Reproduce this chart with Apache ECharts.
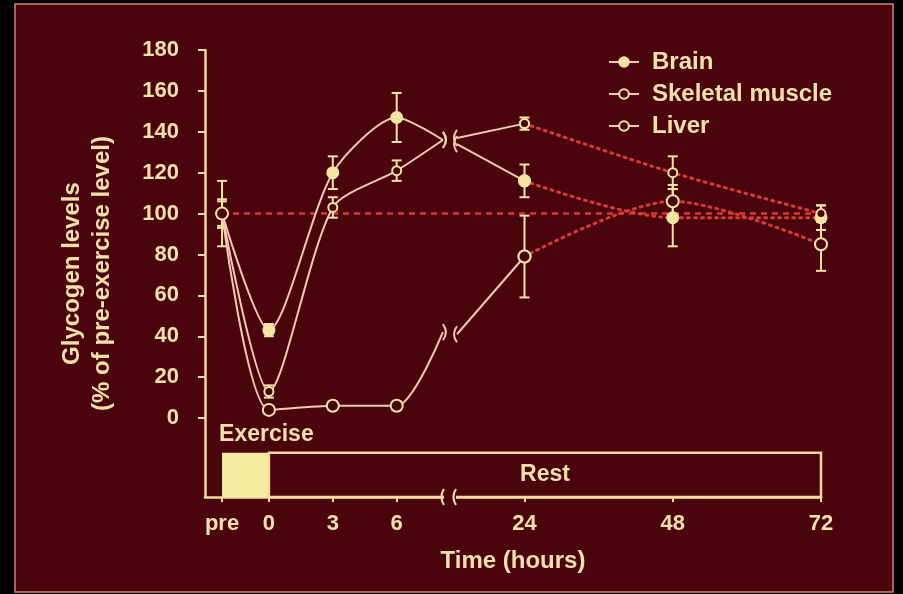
<!DOCTYPE html>
<html><head><meta charset="utf-8">
<script src="https://cdn.jsdelivr.net/npm/echarts@6/dist/echarts.min.js"></script>
<style>html,body{margin:0;padding:0;background:#000;} #c{width:903px;height:594px;}</style>
</head><body><div id="c"></div>
<script>
// ---------- data ----------
const timeLabels = ['pre', '0', '3', '6', '24', '48', '72'];
const brain      = [100, 43, 120, 147, 116, 98, 98];
const brainErr   = [16, 3, 8, 12, 8, 14, 6];
const muscle     = [100, 13, 103, 121, 144, 120, 100];
const muscleErr  = [7, 3, 5, 5, 3, 8, 4];
const liver      = [100, 4, 6, 6, 79, 106, 85];
const liverErr   = [6, 2, 2, 2, 20, 8, 13];
// values where the lines are cut at the axis break (left end, right end)
const brainBreak  = [136, 134];
const muscleBreak = [136, 137];
const liverBreak  = [42, 41];
const yTicks = [0, 20, 40, 60, 80, 100, 120, 140, 160, 180];
const phaseNames = ['Exercise', 'Rest'];
const phaseFrom  = ['pre', '0'];
const phaseTo    = ['0', '72'];
const refLevel = 100;

// ---------- broken time scale ----------
const PRE_POS = -2.2, BREAK_POS = 8.5, BREAK_HALF = 0.33, LATE_START = 12, LATE_RATE = 0.29;
function axisPos(label) {
  if (label === 'pre') return PRE_POS;
  const h = Number(label);
  return h <= 6 ? h : LATE_START + (h - 24) * LATE_RATE;
}
const X_MIN = -3.0, X_MAX = axisPos('72');
const Y_MIN = -38.6, Y_MAX = 180, PHASE_TOP = -17;

// ---------- style ----------
const BG = '#4a040c', LINE = '#f4c8b2', SYM = '#f6e4a2', AXIS = '#f5d9a0', TEXT = '#f6e0aa',
      RED = '#d8393a', EX_FILL = '#f4ec9e';
const FONT = '"Liberation Sans", Arial, sans-serif';

const tissues = [
  {name: 'Brain', v: brain, e: brainErr, b: brainBreak, sym: {size: 11, fill: SYM}},
  {name: 'Skeletal muscle', v: muscle, e: muscleErr, b: muscleBreak, sym: {size: 9, fill: BG}},
  {name: 'Liver', v: liver, e: liverErr, b: liverBreak, sym: {size: 12, fill: BG}}
];

const series = [];
// reference line at 100 %
series.push({
  type: 'line', silent: true, symbol: 'none', z: 2,
  data: [[axisPos('pre'), refLevel], [axisPos('72'), refLevel]],
  lineStyle: {color: RED, width: 2.5, type: [6, 5]}
});

const errData = [], breakData = [];
tissues.forEach(t => {
  const itemStyle = {color: t.sym.fill, borderColor: SYM, borderWidth: 2};
  const left = [];
  for (let i = 0; i < 4; i++) left.push([axisPos(timeLabels[i]), t.v[i]]);
  left.push({value: [BREAK_POS - BREAK_HALF, t.b[0]], symbol: 'none'});
  series.push({
    name: t.name, type: 'line', smooth: 0.25, z: 5, data: left,
    symbol: 'circle', symbolSize: t.sym.size, itemStyle,
    lineStyle: {color: LINE, width: 2}
  });
  series.push({
    name: t.name, type: 'line', smooth: 0.2, z: 5,
    data: [{value: [BREAK_POS + BREAK_HALF, t.b[1]], symbol: 'none'}, [axisPos('24'), t.v[4]]],
    symbol: 'circle', symbolSize: t.sym.size, itemStyle,
    lineStyle: {color: LINE, width: 2}
  });
  series.push({
    name: t.name, type: 'line', smooth: 0.3, z: 4,
    data: [4, 5, 6].map(i => [axisPos(timeLabels[i]), t.v[i]]),
    symbol: 'circle', symbolSize: t.sym.size, itemStyle,
    lineStyle: {color: RED, width: 3, type: [2, 5], cap: 'round'}
  });
  t.v.forEach((val, i) => {
    if (t.e[i] > 0) errData.push([axisPos(timeLabels[i]), val - t.e[i], val + t.e[i]]);
  });
  breakData.push([BREAK_POS - BREAK_HALF, t.b[0], -1]);
  breakData.push([BREAK_POS + BREAK_HALF, t.b[1], 1]);
});

// error bars
series.push({
  type: 'custom', silent: true, z: 3, data: errData,
  encode: {x: 0, y: [1, 2]},
  renderItem(params, api) {
    const x = api.value(0);
    const p1 = api.coord([x, api.value(2)]), p2 = api.coord([x, api.value(1)]);
    const w = 5, st = {stroke: SYM, lineWidth: 2};
    return {type: 'group', children: [
      {type: 'line', shape: {x1: p1[0], y1: p1[1], x2: p2[0], y2: p2[1]}, style: st},
      {type: 'line', shape: {x1: p1[0] - w, y1: p1[1], x2: p1[0] + w, y2: p1[1]}, style: st},
      {type: 'line', shape: {x1: p2[0] - w, y1: p2[1], x2: p2[0] + w, y2: p2[1]}, style: st}
    ]};
  }
});

// break marks on the lines
series.push({
  type: 'custom', silent: true, z: 6, data: breakData,
  encode: {x: 0, y: 1},
  renderItem(params, api) {
    const p = api.coord([api.value(0), api.value(1)]);
    const s = api.value(2);
    return {type: 'bezierCurve',
      shape: {x1: p[0], y1: p[1] - 8, x2: p[0], y2: p[1] + 8, cpx1: p[0] - 6 * s, cpy1: p[1]},
      style: {stroke: LINE, lineWidth: 2, fill: null}};
  }
});

// axis break mark
series.push({
  type: 'custom', silent: true, z: 7, data: [[BREAK_POS, Y_MIN]],
  encode: {x: 0, y: 1}, clip: false,
  renderItem(params, api) {
    const p = api.coord([api.value(0), api.value(1)]);
    const d = 6, st = {stroke: AXIS, lineWidth: 2.2, fill: null};
    return {type: 'group', children: [
      {type: 'rect', shape: {x: p[0] - d, y: p[1] - 3, width: 2 * d, height: 6}, style: {fill: BG}},
      {type: 'bezierCurve', shape: {x1: p[0] - d, y1: p[1] - 8, x2: p[0] - d, y2: p[1] + 8, cpx1: p[0] - d - 5, cpy1: p[1]}, style: st},
      {type: 'bezierCurve', shape: {x1: p[0] + d, y1: p[1] - 8, x2: p[0] + d, y2: p[1] + 8, cpx1: p[0] + d - 5, cpy1: p[1]}, style: st}
    ]};
  }
});

// exercise / rest phases
series.push({
  type: 'custom', silent: true, z: 1, clip: false,
  data: phaseNames.map((n, i) => [axisPos(phaseFrom[i]), axisPos(phaseTo[i]), i]),
  encode: {x: [0, 1]},
  renderItem(params, api) {
    const i = api.value(2);
    const a = api.coord([api.value(0), PHASE_TOP]), b = api.coord([api.value(1), Y_MIN]);
    const rect = {x: a[0], y: a[1], width: b[0] - a[0], height: b[1] - a[1]};
    const font = 'bold 23px ' + FONT;
    if (i === 0) {
      return {type: 'group', children: [
        {type: 'rect', shape: rect, style: {fill: EX_FILL}},
        {type: 'text', style: {text: phaseNames[i], x: a[0] - 3, y: a[1] - 7, fill: TEXT, font,
          textAlign: 'left', textVerticalAlign: 'bottom'}}
      ]};
    }
    return {type: 'group', children: [
      {type: 'rect', shape: rect, style: {fill: null, stroke: AXIS, lineWidth: 2.5}},
      {type: 'text', style: {text: phaseNames[i], x: (a[0] + b[0]) / 2, y: (a[1] + b[1]) / 2, fill: TEXT, font,
        textAlign: 'center', textVerticalAlign: 'middle'}}
    ]};
  }
});

const tickPos = timeLabels.map(axisPos);
const option = {
  backgroundColor: '#000',
  animation: false,
  graphic: [{type: 'rect', z: -10, shape: {x: 15, y: 4, width: 878, height: 588},
    style: {fill: BG, stroke: '#c98a6a', lineWidth: 1.5}}],
  grid: {left: 205, right: 82, top: 50, bottom: 97, outerBoundsMode: 'none'},
  legend: {
    data: tissues.map(t => t.name), orient: 'vertical', left: 603, top: 45,
    itemWidth: 30, itemHeight: 12, itemGap: 8,
    textStyle: {color: TEXT, fontSize: 24, fontWeight: 'bold', fontFamily: FONT, padding: [0, 0, 0, 8]}
  },
  xAxis: {
    type: 'value', min: X_MIN, max: X_MAX,
    name: 'Time (hours)', nameLocation: 'middle', nameGap: 52,
    nameTextStyle: {color: TEXT, fontSize: 24, fontWeight: 'bold', fontFamily: FONT},
    axisLine: {show: true, onZero: false, lineStyle: {color: AXIS, width: 2.5}},
    axisTick: {show: true, customValues: tickPos, length: 5, lineStyle: {color: AXIS, width: 2}},
    axisLabel: {customValues: tickPos, margin: 16, color: TEXT, fontSize: 22, fontWeight: 'bold', fontFamily: FONT,
      formatter: v => { const i = tickPos.findIndex(p => Math.abs(p - v) < 1e-6); return i >= 0 ? timeLabels[i] : ''; }},
    splitLine: {show: false}
  },
  yAxis: {
    type: 'value', min: Y_MIN, max: Y_MAX,
    name: 'Glycogen levels\n(% of pre-exercise level)', nameLocation: 'middle', nameRotate: 90, nameGap: 88,
    nameTextStyle: {color: TEXT, fontSize: 24, fontWeight: 'bold', fontFamily: FONT, lineHeight: 30},
    axisLine: {show: true, onZero: false, lineStyle: {color: AXIS, width: 2.5}},
    axisTick: {show: true, customValues: yTicks, length: 7, lineStyle: {color: AXIS, width: 2}},
    axisLabel: {customValues: yTicks, margin: 26, color: TEXT, fontSize: 22, fontWeight: 'bold', fontFamily: FONT},
    splitLine: {show: false}
  },
  series
};
const chart = echarts.init(document.getElementById('c'));
chart.setOption(option);
</script></body></html>
